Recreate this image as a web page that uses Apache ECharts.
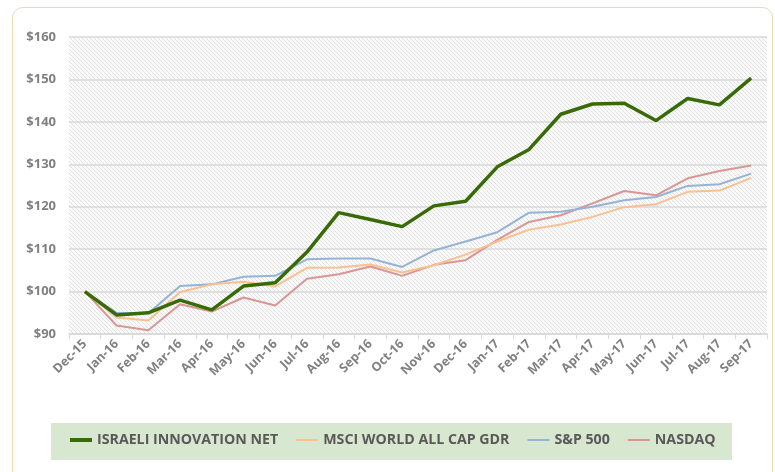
<!DOCTYPE html>
<html>
<head>
<meta charset="utf-8">
<script src="https://cdn.jsdelivr.net/npm/echarts@6/dist/echarts.min.js"></script>
<style>html,body{margin:0;padding:0;background:#fff}#c{width:775px;height:472px}</style>
</head>
<body>
<div id="c"></div>
<script>
const categories = ['Dec-15','Jan-16','Feb-16','Mar-16','Apr-16','May-16','Jun-16','Jul-16','Aug-16','Sep-16','Oct-16','Nov-16','Dec-16','Jan-17','Feb-17','Mar-17','Apr-17','May-17','Jun-17','Jul-17','Aug-17','Sep-17'];
const israeliInnovation = [100,94.5,95.0,98.0,95.7,101.3,102.1,109.3,118.6,117.0,115.3,120.2,121.3,129.4,133.5,141.8,144.2,144.4,140.3,145.5,144.0,150.3];
const msciWorld = [100,93.9,93.2,99.9,101.7,102.3,101.2,105.6,105.7,106.4,104.5,106.2,108.7,111.8,114.6,115.8,117.6,119.9,120.6,123.5,123.8,126.8];
const sp500 = [100,95.0,94.9,101.3,101.7,103.5,103.7,107.6,107.8,107.8,105.8,109.7,111.8,114.0,118.6,118.8,120.0,121.5,122.3,124.9,125.3,127.8];
const nasdaq = [100,92.0,90.9,97.0,95.3,98.6,96.7,103.0,104.1,105.9,103.7,106.3,107.4,112.2,116.4,118.0,120.8,123.7,122.7,126.7,128.4,129.7];
const yTicks = [90,100,110,120,130,140,150,160];

function hatch(){
  const c = document.createElement('canvas');
  c.width = 4; c.height = 4;
  const g = c.getContext('2d');
  g.fillStyle = '#fbfbfb'; g.fillRect(0,0,4,4);
  g.strokeStyle = '#e0e0e0'; g.lineWidth = 1;
  g.beginPath(); g.moveTo(-1,-1); g.lineTo(5,5); g.stroke();
  g.beginPath(); g.moveTo(-1,3); g.lineTo(1,5); g.stroke();
  g.beginPath(); g.moveTo(3,-1); g.lineTo(5,1); g.stroke();
  return c;
}

const thin = 'path://M0,0 L22,0 L22,2 L0,2 Z';
const thick = 'path://M0,0 L22,0 L22,4 L0,4 Z';
const chart = echarts.init(document.getElementById('c'), null, {renderer:'canvas'});
const font = '"Open Sans", "DejaVu Sans", sans-serif';
chart.setOption({
  animation:false,
  backgroundColor:'#ffffff',
  graphic:[
    {type:'rect', shape:{x:12.5,y:7.5,width:760,height:480,r:10}, style:{fill:'none',stroke:'#ecd9ab',lineWidth:1}, z:-10},
    {type:'rect', shape:{x:51,y:423,width:681,height:37}, style:{fill:'#d8e7cf'}, z:-5}
  ],
  grid:{left:69,right:8,top:37,bottom:138,show:true,backgroundColor:{image:hatch(),repeat:'repeat'},borderWidth:0},
  legend:{
    left:70, top:433, padding:0, itemGap:18, itemWidth:22, itemHeight:14,
    textStyle:{fontFamily:font,fontWeight:'bold',fontSize:14.2,color:'#595959'},
    data:[
      {name:'ISRAELI INNOVATION NET', icon:thick, itemHeight:4, itemStyle:{color:'#376b06'}},
      {name:'MSCI WORLD ALL CAP GDR', icon:thin, itemHeight:2, itemStyle:{color:'#fac090'}},
      {name:'S&P 500', icon:thin, itemHeight:2, itemStyle:{color:'#95b3d7'}},
      {name:'NASDAQ', icon:thin, itemHeight:2, itemStyle:{color:'#d99694'}}
    ]
  },
  xAxis:{
    type:'category', data:categories, boundaryGap:true,
    axisLine:{lineStyle:{color:'#d9d9d9',width:1.5}},
    axisTick:{show:true,length:5,lineStyle:{color:'#d9d9d9'}},
    axisLabel:{rotate:45,fontFamily:font,fontWeight:'bold',fontSize:12.5,color:'#808080',margin:8,interval:0}
  },
  yAxis:{
    type:'value', min:yTicks[0], max:yTicks[yTicks.length-1], interval:10,
    axisLine:{show:false}, axisTick:{show:false},
    splitLine:{lineStyle:{color:'#d9d9d9',width:1.5}},
    axisLabel:{formatter:v=>'$'+v,fontFamily:font,fontWeight:'bold',fontSize:13,color:'#808080',margin:13}
  },
  series:[
    {name:'ISRAELI INNOVATION NET',type:'line',data:israeliInnovation,symbol:'none',lineStyle:{color:'#376b06',width:3.5},itemStyle:{color:'#376b06'},z:5},
    {name:'MSCI WORLD ALL CAP GDR',type:'line',data:msciWorld,symbol:'none',lineStyle:{color:'#fac090',width:2},itemStyle:{color:'#fac090'},z:4},
    {name:'S&P 500',type:'line',data:sp500,symbol:'none',lineStyle:{color:'#95b3d7',width:2},itemStyle:{color:'#95b3d7'},z:3},
    {name:'NASDAQ',type:'line',data:nasdaq,symbol:'none',lineStyle:{color:'#d99694',width:2},itemStyle:{color:'#d99694'},z:2}
  ]
});
</script>
</body>
</html>
